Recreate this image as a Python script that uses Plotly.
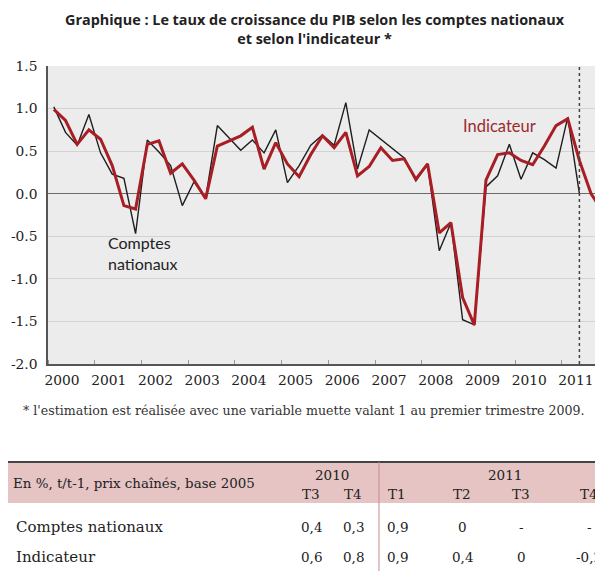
import plotly.graph_objects as go

# ---------------- data ----------------
years = list(range(2000, 2012))
year_labels = [str(y) for y in years]

# quarterly GDP growth (%), from 2000 T1
comptes_nationaux = [1.02, 0.72, 0.57, 0.93, 0.48, 0.23, 0.18, -0.47, 0.63, 0.49,
                     0.33, -0.14, 0.14, -0.05, 0.80, 0.66, 0.51, 0.63, 0.48, 0.75,
                     0.13, 0.33, 0.57, 0.69, 0.57, 1.07, 0.29, 0.75, 0.64, 0.54,
                     0.42, 0.15, 0.35, -0.67, -0.34, -1.48, -1.54, 0.08, 0.21, 0.58,
                     0.17, 0.48, 0.40, 0.30, 0.90, 0.00]
indicateur = [0.99, 0.86, 0.58, 0.75, 0.64, 0.33, -0.14, -0.18, 0.58, 0.62,
              0.24, 0.35, 0.16, -0.06, 0.56, 0.62, 0.68, 0.78, 0.29, 0.60,
              0.35, 0.20, 0.46, 0.68, 0.54, 0.72, 0.21, 0.32, 0.54, 0.39,
              0.41, 0.17, 0.35, -0.46, -0.34, -1.22, -1.54, 0.16, 0.46, 0.48,
              0.39, 0.34, 0.56, 0.80, 0.88, 0.39, 0.00, -0.21]
y_ticks = [-2.0, -1.5, -1.0, -0.5, 0.0, 0.5, 1.0, 1.5]
last_known_quarter = 45  # 2011 T2 (dotted line)

# table
tbl_years = ["2010", "2011"]
tbl_quarters = ["T3", "T4", "T1", "T2", "T3", "T4"]
tbl_comptes = ["0,4", "0,3", "0,9", "0", "-", "-"]
tbl_indic = ["0,6", "0,8", "0,9", "0,4", "0", "-0,2"]
tbl_header = "En %, t/t-1, prix chaînés, base 2005"
row_names = ["Comptes nationaux", "Indicateur"]

title_lines = ["Graphique : Le taux de croissance du PIB selon les comptes nationaux",
               "et selon l'indicateur *"]
footnote = "* l'estimation est réalisée avec une variable muette valant 1 au premier trimestre 2009."
label_comptes = ["Comptes", "nationaux"]
label_indic = "Indicateur"

# ---------------- geometry ----------------
# the page body has an 8px margin: the figure starts at page (8, 8)
OFF = 8
W, H = 603 - OFF, 571 - OFF
PL, PT, PR, PB = 48, 66, 603, 364          # plot area in page pixels
L, T = PL - OFF, PT - OFF
PW, PH = PR - PL, PB - PT
R, B = W - L - PW, H - T - PH


def xp(px):
    return (px - PL) / PW


def yp(py):
    return (PB - py) / PH


def qx(i):
    return 2000 + i / 4 + 0.125


RED = "#a81e24"
SERIF = "DejaVu Serif"
SANS = "Open Sans"

fig = go.Figure()
fig.add_trace(go.Scatter(x=[qx(i) for i in range(len(comptes_nationaux))], y=comptes_nationaux,
                         mode="lines", line=dict(color="#1e1e1e", width=1.4),
                         name="Comptes nationaux", showlegend=False))
fig.add_trace(go.Scatter(x=[qx(i) for i in range(len(indicateur))], y=indicateur,
                         mode="lines", line=dict(color=RED, width=3),
                         name="Indicateur", showlegend=False))

shapes = []
xd = qx(last_known_quarter)
shapes.append(dict(type="line", xref="x", yref="paper", x0=xd, x1=xd, y0=0, y1=1,
                   line=dict(color="#444", width=1.5, dash="dot")))

annotations = []
annotations.append(dict(text="<br>".join(f"<b>{t}</b>" for t in title_lines),
                        xref="paper", yref="paper", x=xp(315), y=yp(28.5),
                        xanchor="center", yanchor="middle", align="center",
                        showarrow=False, font=dict(family=SANS, size=14.4, color="#222")))
annotations.append(dict(text="<br>".join(label_comptes), xref="paper", yref="paper",
                        x=xp(106), y=yp(253), xanchor="left", yanchor="middle", align="left",
                        showarrow=False, font=dict(family="Lato", size=16, color="#222")))
annotations.append(dict(text=label_indic, xref="paper", yref="paper",
                        x=xp(499), y=yp(126), xanchor="center", yanchor="middle",
                        showarrow=False, font=dict(family="Lato", size=16.5, color="#9c2a2c")))
annotations.append(dict(text=footnote, xref="paper", yref="paper",
                        x=xp(21), y=yp(410), xanchor="left", yanchor="middle",
                        showarrow=False, font=dict(family=SERIF, size=12.6, color="#333")))

# ---------------- table ----------------
tbl_top, band_bot = 462, 503
div_x = 379
col_x = [311, 353, 397, 462, 521, 589]
year_x = [332, 505]
row_y = [527, 557]
shapes.append(dict(type="rect", xref="paper", yref="paper", x0=xp(8), x1=xp(603),
                   y0=yp(band_bot), y1=yp(tbl_top), fillcolor="#e6c4c4", line=dict(width=0),
                   layer="below"))
shapes.append(dict(type="line", xref="paper", yref="paper", x0=xp(8), x1=xp(603),
                   y0=yp(tbl_top), y1=yp(tbl_top), line=dict(color="#444", width=2)))
shapes.append(dict(type="line", xref="paper", yref="paper", x0=xp(div_x), x1=xp(div_x),
                   y0=yp(tbl_top), y1=yp(571), line=dict(color="#c98a8a", width=1)))
annotations.append(dict(text=tbl_header, xref="paper", yref="paper", x=xp(11), y=yp(484),
                        xanchor="left", yanchor="middle", showarrow=False,
                        font=dict(family=SERIF, size=13.4, color="#222")))
for yx, ylab in zip(year_x, tbl_years):
    annotations.append(dict(text=ylab, xref="paper", yref="paper", x=xp(yx), y=yp(475),
                            xanchor="center", yanchor="middle", showarrow=False,
                            font=dict(family=SERIF, size=13.5, color="#222")))
for cx, q in zip(col_x, tbl_quarters):
    annotations.append(dict(text=q, xref="paper", yref="paper", x=xp(cx), y=yp(494),
                            xanchor="center", yanchor="middle", showarrow=False,
                            font=dict(family=SERIF, size=13.5, color="#222")))
for ry, name, vals in zip(row_y, row_names, [tbl_comptes, tbl_indic]):
    annotations.append(dict(text=name, xref="paper", yref="paper", x=xp(14), y=yp(ry),
                            xanchor="left", yanchor="middle", showarrow=False,
                            font=dict(family=SERIF, size=15, color="#222")))
    for cx, v in zip(col_x, vals):
        annotations.append(dict(text=v, xref="paper", yref="paper", x=xp(cx), y=yp(ry),
                                xanchor="center", yanchor="middle", showarrow=False,
                                font=dict(family=SERIF, size=13.5, color="#222")))

fig.update_layout(
    width=W, height=H,
    margin=dict(l=L, r=R, t=T, b=B, pad=0),
    paper_bgcolor="white", plot_bgcolor="#ececec",
    shapes=shapes, annotations=annotations,
    xaxis=dict(range=[2000, 2011.88], showgrid=False, zeroline=False,
               tickmode="array", tickvals=[y + 0.3 for y in years], ticktext=year_labels,
               ticks="", showline=True, linecolor="#555", linewidth=1.5,
               ticklabelstandoff=3,
               tickfont=dict(family=SERIF, size=13.8, color="#222"),
               minor=dict(tickmode="array", tickvals=years, ticks="inside", ticklen=4,
                          tickcolor="#999", showgrid=False),
               fixedrange=True),
    yaxis=dict(range=[-2.0, 1.5], tickmode="array", tickvals=y_ticks,
               ticktext=[f"{v:.1f}" for v in y_ticks], showgrid=True, gridcolor="#d2d2d2",
               gridwidth=1, zeroline=True, zerolinecolor="#6a6a6a", zerolinewidth=1.2,
               showline=True, linecolor="#555", linewidth=1.5, ticks="",
               ticklabelstandoff=6,
               tickfont=dict(family=SERIF, size=13.8, color="#222"), fixedrange=True),
)

fig.write_html("out.html")
